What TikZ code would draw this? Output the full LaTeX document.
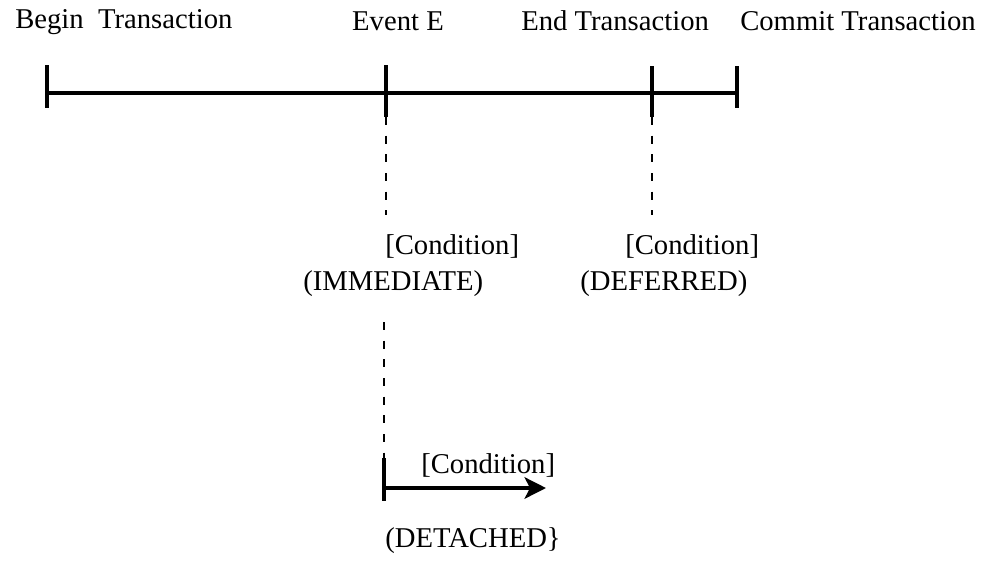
\documentclass[tikz,border=0pt]{standalone}
\usepackage{fontspec}
\setmainfont{Liberation Serif}
\usetikzlibrary{arrows.meta}
\begin{document}
\begin{tikzpicture}[x=0.75pt,y=-0.75pt,
  lbl/.style={font=\fontsize{21.5}{24}\selectfont, inner sep=0pt, anchor=west},
  axis/.style={line width=3.6pt},
  tickmark/.style={line width=3.6pt},
  guide/.style={line width=0.8pt, dash pattern=on 6pt off 8pt}]
\useasboundingbox[fill=white] (0,0) rectangle (981,565);
% labels
\node[lbl] (begin) at (15,22) {Begin\ \ Transaction};
\node[lbl, anchor=center] (event) at (398,21) {Event E};
\node[lbl] (endt) at (521,21) {End Transaction};
\node[lbl] (commit) at (740,21) {Commit Transaction};
\node[lbl] (c1) at (385,246) {[Condition]};
\node[lbl] (c2) at (625,246) {[Condition]};
\node[lbl] (imm) at (303,284) {(IMMEDIATE)};
\node[lbl] (def) at (580,284) {(DEFERRED)};
\node[lbl] (c3) at (421,465) {[Condition]};
\node[lbl] (det) at (385,541) {(DETACHED\}};
% coordinates
\coordinate (b0) at (47,93);
\coordinate (e0) at (386,93);
\coordinate (n0) at (652,93);
\coordinate (m0) at (737,93);
\coordinate (bt) at (47,65);  \coordinate (bb) at (47,108);
\coordinate (et) at (386,65); \coordinate (eb) at (386,117);
\coordinate (nt) at (652,66); \coordinate (nb) at (652,117);
\coordinate (mt) at (737,66); \coordinate (mb) at (737,108);
\coordinate (ed) at (386,215);
\coordinate (nd) at (652,215);
\coordinate (dt) at (384,322);
\coordinate (dd) at (384,470);
\coordinate (xt) at (384,458); \coordinate (xb) at (384,501);
\coordinate (x0) at (384,488); \coordinate (x1) at (546,488);
% timeline
\draw[axis] (b0) -- (m0);
\draw[tickmark] (bt) -- (bb);
\draw[tickmark] (et) -- (eb);
\draw[tickmark] (nt) -- (nb);
\draw[tickmark] (mt) -- (mb);
% guides
\draw[guide] (eb) -- (ed);
\draw[guide] (nb) -- (nd);
\draw[guide] (dt) -- (dd);
% detached
\draw[tickmark] (xt) -- (xb);
\draw[axis, -{Stealth[length=16pt, width=16pt, inset=4pt]}] (x0) -- (x1);
\end{tikzpicture}
\end{document}
